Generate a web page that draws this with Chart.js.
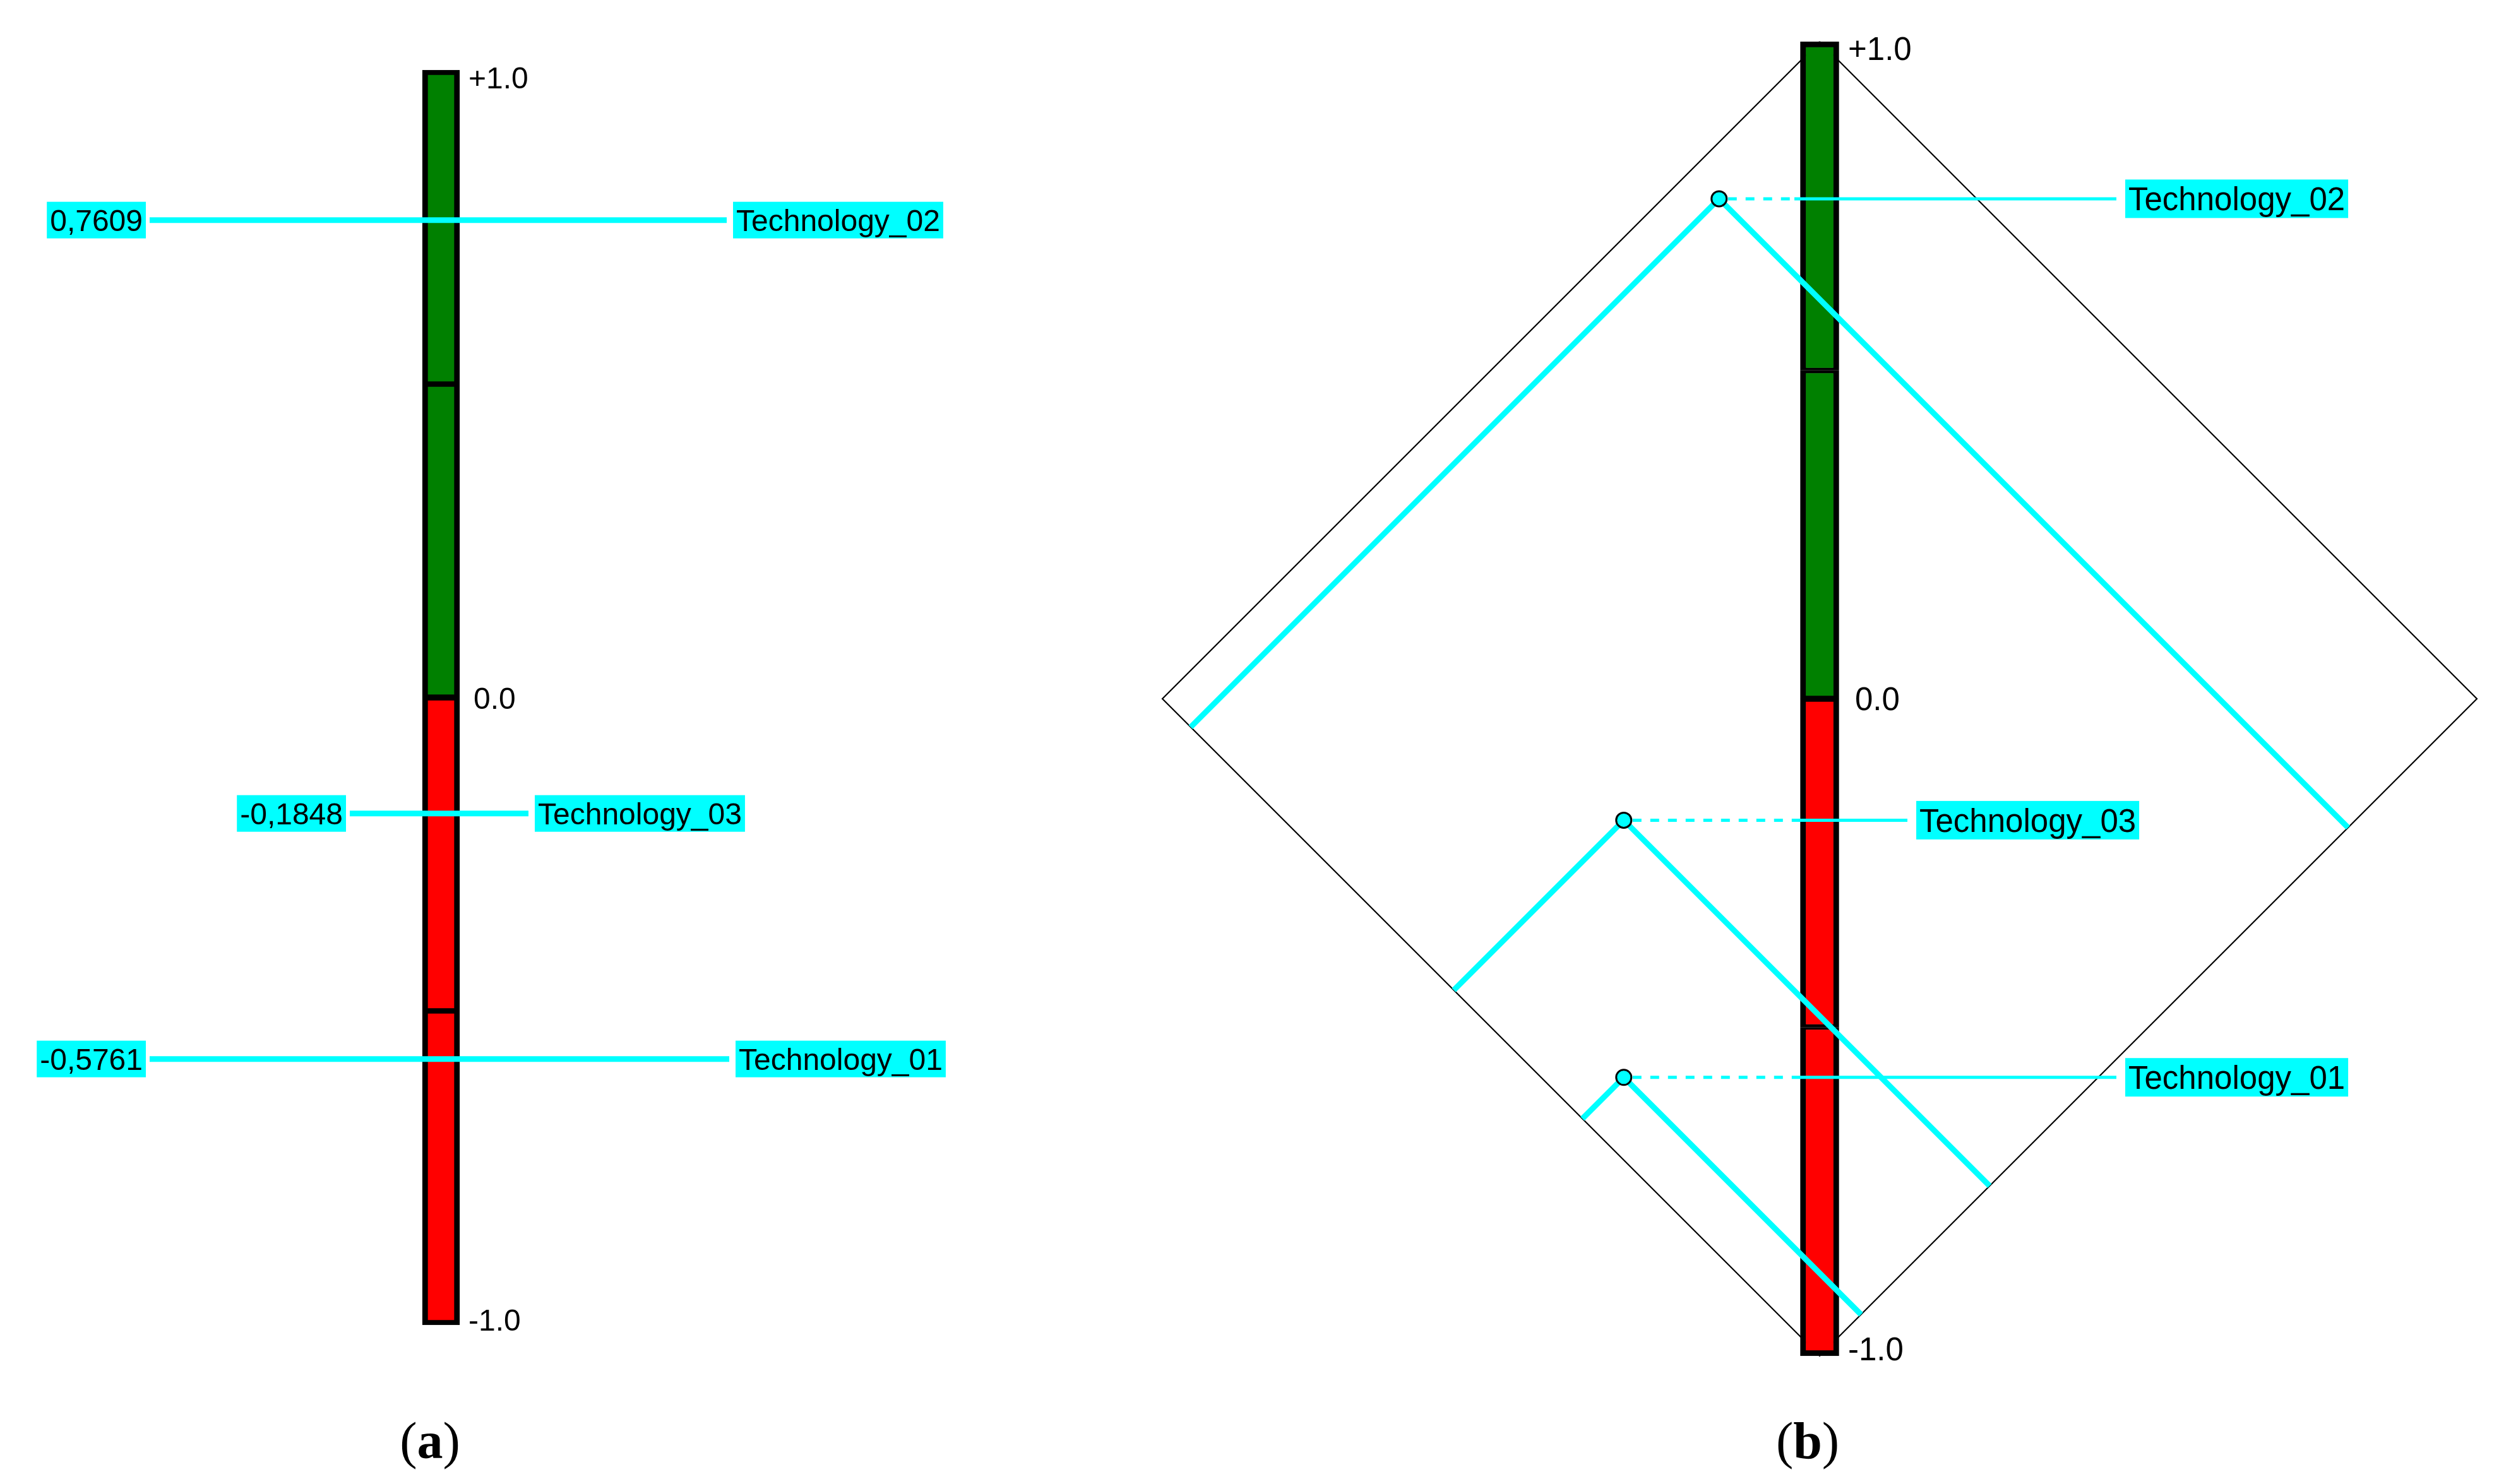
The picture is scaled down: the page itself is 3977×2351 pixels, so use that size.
<!DOCTYPE html>
<html><head><meta charset="utf-8">
<script src="https://cdn.jsdelivr.net/npm/chart.js@4.4.0/dist/chart.umd.min.js"></script>
<style>
html,body{margin:0;padding:0;background:#fff;}
body{width:3977px;height:2351px;position:relative;overflow:hidden;}
canvas{position:absolute;top:0;}
#ca{left:0;} #cb{left:1760px;}
.cap{position:absolute;top:2283px;font-family:"Liberation Serif","Times New Roman",serif;font-size:82px;line-height:1;transform:translate(-50%,-50%);color:#000;}
</style></head><body>
<canvas id="ca" width="1760" height="2351"></canvas>
<canvas id="cb" width="2217" height="2351"></canvas>
<div class="cap" style="left:681px">(<b>a</b>)</div>
<div class="cap" style="left:2863px">(<b>b</b>)</div>
<script>
// ---------------- data ----------------
const techNames  = ['Technology_01', 'Technology_02', 'Technology_03'];
const techValues = [-0.5761, 0.7609, -0.1848];
const techSpread = [-0.298, -0.153, -0.298];   // horizontal position of each point in panel (b)
const segLow   = [0.5, 0, -0.5, -1];
const segHigh  = [1, 0.5, 0, -0.5];
const segColors = ['#008000', '#008000', '#ff0000', '#ff0000'];
const tickValues = [1, 0, -1];
const tickLabels = ['+1.0', '0.0', '-1.0'];

// ---------------- layout / style ----------------
const CYAN = '#00ffff';
const fmt = v => v.toFixed(4).replace('.', ',');
const A = {
  barX: 698.5, barThickness: 59,
  valueRight: [231, 231, 548], techLeft: [1165, 1161, 847],
  segBorder: [{top:8,bottom:4,left:9,right:9},{top:5,bottom:5,left:9,right:9},{top:5,bottom:5,left:9,right:9},{top:4,bottom:8,left:9,right:9}],
  font: '48px "Liberation Sans", Arial, sans-serif', boxH: 58, pad: 5,
  tickDx: [43.5, 51.5, 43.5], tickDy: [11.5, 0.5, -9]
};
const BPX = 1041; // pixels per unit in panel (b)
const B = {
  barThickness: 61,
  segBorder: [{top:9,bottom:4,left:9,right:9},{top:5,bottom:5,left:9,right:9},{top:5,bottom:5,left:9,right:9},{top:4,bottom:9,left:9,right:9}],
  dashEnd: -40 / BPX, labelLeft: [484 / BPX, 484 / BPX, 153 / BPX], lineGap: 14 / BPX,
  font: '51px "Liberation Sans", Arial, sans-serif', boxH: 61, pad: 5,
  tickDx: [45, 56, 45], tickDy: [10, -1, -12]
};

function drawBox(ctx, text, x, y, align, h, pad, capH) {
  const w = ctx.measureText(text).width + 2 * pad;
  const left = align === 'left' ? x : x - w;
  ctx.fillStyle = CYAN;
  ctx.fillRect(left, y - h / 2, w, h);
  ctx.fillStyle = '#000';
  ctx.textAlign = 'left';
  ctx.textBaseline = 'alphabetic';
  ctx.fillText(text, left + pad, y + capH / 2);
}

// ---------------- chart (a) ----------------
const dsA = [];
dsA.push({
  type: 'bar', order: 4, clip: false,
  data: segLow.map((lo, i) => ({x: A.barX, y: [lo, segHigh[i]]})),
  backgroundColor: segColors, borderColor: '#000',
  borderWidth: c => A.segBorder[c.dataIndex], borderSkipped: false,
  barThickness: A.barThickness, grouped: false
});
techValues.forEach((v, i) => {
  dsA.push({
    type: 'line', order: 2, clip: false,
    data: [{x: A.valueRight[i] + 6, y: v}, {x: A.techLeft[i] - 10, y: v}],
    borderColor: CYAN, borderWidth: 9, pointRadius: 0, borderCapStyle: 'butt'
  });
});
const labelsA = {
  id: 'labelsA',
  afterDatasetsDraw(chart) {
    const ctx = chart.ctx, xs = chart.scales.x, ys = chart.scales.y;
    ctx.save();
    ctx.font = A.font;
    techValues.forEach((v, i) => {
      const y = ys.getPixelForValue(v);
      drawBox(ctx, fmt(v), xs.getPixelForValue(A.valueRight[i]), y, 'right', A.boxH, A.pad, 35);
      drawBox(ctx, techNames[i], xs.getPixelForValue(A.techLeft[i]), y, 'left', A.boxH, A.pad, 35);
    });
    ctx.fillStyle = '#000';
    ctx.textAlign = 'left';
    ctx.textBaseline = 'alphabetic';
    tickValues.forEach((t, i) => {
      ctx.fillText(tickLabels[i], xs.getPixelForValue(A.barX) + A.tickDx[i], ys.getPixelForValue(t) + A.tickDy[i] + 17.5);
    });
    ctx.restore();
  }
};
new Chart(document.getElementById('ca'), {
  type: 'bar',
  data: {datasets: dsA},
  options: {
    responsive: false, animation: false, devicePixelRatio: 1,
    layout: {padding: {left: 0, right: 0, top: 111, bottom: 252}},
    plugins: {legend: {display: false}, tooltip: {enabled: false}},
    scales: {
      x: {type: 'linear', display: false, min: 0, max: 1760, offset: false},
      y: {type: 'linear', display: false, min: -1, max: 1}
    }
  },
  plugins: [labelsA]
});

// ---------------- chart (b) ----------------
const dsB = [];
dsB.push({
  type: 'line', order: 6, clip: false,
  data: [{x: 0, y: 1}, {x: 1, y: 0}, {x: 0, y: -1}, {x: -1, y: 0}, {x: 0, y: 1}],
  borderColor: '#000', borderWidth: 2.2, pointRadius: 0, tension: 0, fill: false
});
dsB.push({
  type: 'bar', order: 5, clip: false,
  data: segLow.map((lo, i) => ({x: 0, y: [lo, segHigh[i]]})),
  backgroundColor: segColors, borderColor: '#000',
  borderWidth: c => B.segBorder[c.dataIndex], borderSkipped: false,
  barThickness: B.barThickness, grouped: false
});
techValues.forEach((v, i) => {
  const u = techSpread[i];
  const tL = (1 + u + v) / 2, tR = (1 - u + v) / 2;
  dsB.push({
    type: 'line', order: 3, clip: false,
    data: [{x: u - tL, y: v - tL}, {x: u, y: v}, {x: u + tR, y: v - tR}],
    borderColor: CYAN, borderWidth: 9, pointRadius: 0, tension: 0, borderJoinStyle: 'round'
  });
  dsB.push({
    type: 'line', order: 3, clip: false,
    data: [{x: u, y: v}, {x: B.dashEnd, y: v}],
    borderColor: CYAN, borderWidth: 5, borderDash: [14, 14], borderDashOffset: -14, pointRadius: 0
  });
  dsB.push({
    type: 'line', order: 3, clip: false,
    data: [{x: B.dashEnd, y: v}, {x: B.labelLeft[i] - B.lineGap, y: v}],
    borderColor: CYAN, borderWidth: 5, pointRadius: 0
  });
});
dsB.push({
  type: 'scatter', order: 1, clip: false,
  data: techValues.map((v, i) => ({x: techSpread[i], y: v})),
  pointStyle: 'circle', pointRadius: 12, pointBorderWidth: 3,
  pointBackgroundColor: CYAN, pointBorderColor: '#000', showLine: false
});
const labelsB = {
  id: 'labelsB',
  afterDatasetsDraw(chart) {
    const ctx = chart.ctx, xs = chart.scales.x, ys = chart.scales.y;
    ctx.save();
    ctx.font = B.font;
    techValues.forEach((v, i) => {
      drawBox(ctx, techNames[i], xs.getPixelForValue(B.labelLeft[i]), ys.getPixelForValue(v), 'left', B.boxH, B.pad, 37);
    });
    ctx.fillStyle = '#000';
    ctx.textAlign = 'left';
    ctx.textBaseline = 'alphabetic';
    tickValues.forEach((t, i) => {
      ctx.fillText(tickLabels[i], xs.getPixelForValue(0) + B.tickDx[i], ys.getPixelForValue(t) + B.tickDy[i] + 18.5);
    });
    ctx.restore();
  }
};
new Chart(document.getElementById('cb'), {
  type: 'bar',
  data: {datasets: dsB},
  options: {
    responsive: false, animation: false, devicePixelRatio: 1,
    layout: {padding: {left: 81, right: 54, top: 66, bottom: 203}},
    plugins: {legend: {display: false}, tooltip: {enabled: false}},
    scales: {
      x: {type: 'linear', display: false, min: -1, max: 1, offset: false},
      y: {type: 'linear', display: false, min: -1, max: 1}
    }
  },
  plugins: [labelsB]
});
</script>
</body></html>
